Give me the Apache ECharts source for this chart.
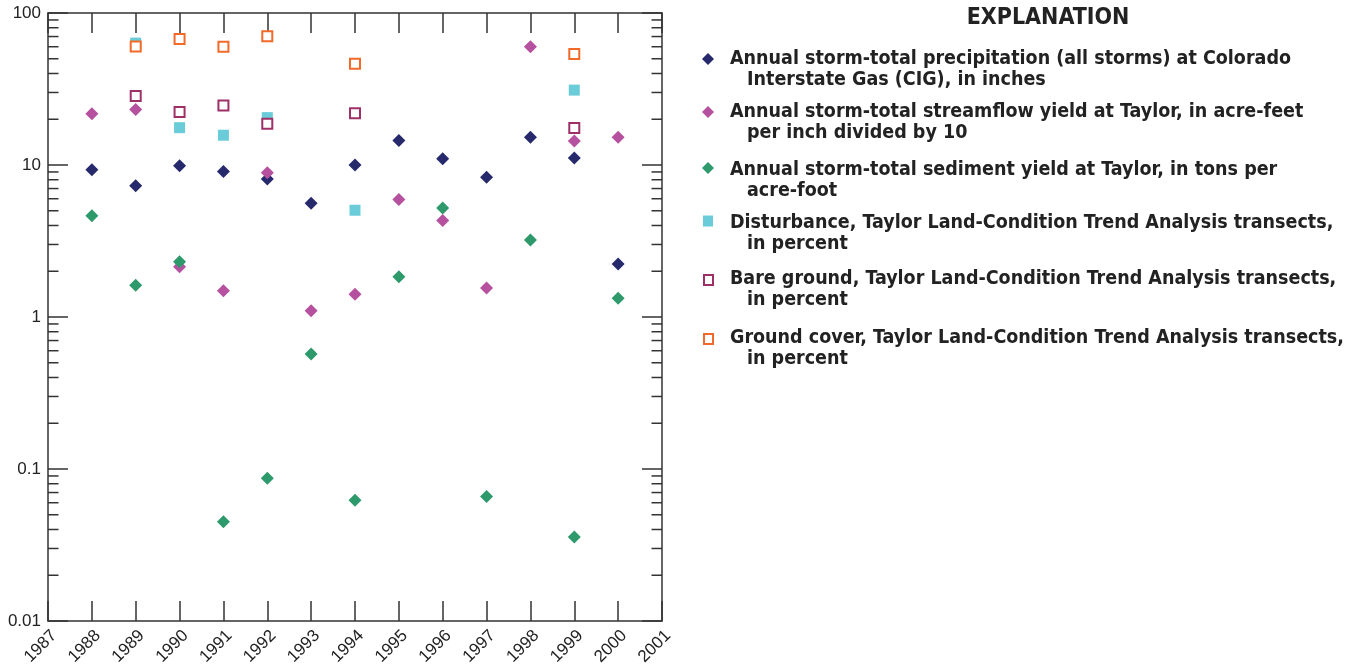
<!DOCTYPE html>
<html>
<head>
<meta charset="utf-8">
<script src="https://cdn.jsdelivr.net/npm/echarts@6/dist/echarts.min.js"></script>
<style>
html,body{margin:0;padding:0;background:#fff;}
#chart{width:1355px;height:667px;}
</style>
</head>
<body>
<div id="chart"></div>
<script>
// ---- Data ----
const years = [1988, 1989, 1990, 1991, 1992, 1993, 1994, 1995, 1996, 1997, 1998, 1999, 2000];
const precipitation = [9.3, 7.3, 9.9, 9.05, 8.1, 5.6, 10.0, 14.5, 11.0, 8.3, 15.2, 11.1, 2.23];
const streamflow = [21.7, 23.2, 2.14, 1.49, 8.9, 1.10, 1.41, 5.92, 4.31, 1.55, 60, 14.4, 15.2];
const sediment = [4.64, 1.62, 2.31, 0.045, 0.087, 0.57, 0.0623, 1.84, 5.22, 0.0659, 3.21, 0.0357, 1.33];
const lctaYears = [1989, 1990, 1991, 1992, 1994, 1999];
const disturbance = [63.4, 17.6, 15.7, 20.5, 5.04, 31.1];
const bareGround = [28.4, 22.3, 24.6, 18.7, 21.9, 17.5];
const groundCover = [60.3, 67.4, 60.0, 70.2, 46.4, 53.7];

const xTickLabels = ['1987','1988','1989','1990','1991','1992','1993','1994','1995','1996','1997','1998','1999','2000','2001'];
const yTickLabels = {'0.01':'0.01','0.1':'0.1','1':'1','10':'10','100':'100'};
const minorTickValues = [0.02,0.03,0.04,0.05,0.06,0.07,0.08,0.09,
                         0.2,0.3,0.4,0.5,0.6,0.7,0.8,0.9,
                         2,3,4,5,6,7,8,9,
                         20,30,40,50,60,70,80,90];

const legendTitle = 'EXPLANATION';
const legendItems = [
  ['Annual storm-total precipitation (all storms) at Colorado', 'Interstate Gas (CIG), in inches'],
  ['Annual storm-total streamflow yield at Taylor, in acre-feet', 'per inch divided by 10'],
  ['Annual storm-total sediment yield at Taylor, in tons per', 'acre-foot'],
  ['Disturbance, Taylor Land-Condition Trend Analysis transects,', 'in percent'],
  ['Bare ground, Taylor Land-Condition Trend Analysis transects,', 'in percent'],
  ['Ground cover, Taylor Land-Condition Trend Analysis transects,', 'in percent']
];

// ---- Styles ----
const C_NAVY = '#27296d', C_PINK = '#b5519f', C_GREEN = '#2e9a6b', C_CYAN = '#6accd9', C_BARE = '#9e3068', C_ORANGE = '#f26a2a';
const AXIS = '#333333';
const legendFont = '"Liberation Sans Narrow", "DejaVu Sans Condensed", "Liberation Sans", sans-serif';

function pairs(xs, ys){ return xs.map((x,i)=>[x, ys[i]]); }

const chart = echarts.init(document.getElementById('chart'), null, {renderer:'canvas'});

const axisLine = {show:true, lineStyle:{color:AXIS, width:1.5}};
const majorTick = {show:true, inside:true, length:20, lineStyle:{color:AXIS, width:1.5}};

const legendY = [[59,80],[112,133],[170,191],[223,244],[279,300],[338,359]];
const legendMarkerY = [59,112,168,221,280,339];
const graphics = [{
  type:'text', x:1048, y:18,
  style:{text:legendTitle, fill:'#222', font:'bold 23px ' + legendFont, textAlign:'center', textVerticalAlign:'middle'}
}];
legendItems.forEach((it, i) => {
  graphics.push({type:'text', x:730, y:legendY[i][0], style:{text:it[0], fill:'#222', font:'bold 19.5px ' + legendFont, textAlign:'left', textVerticalAlign:'middle'}});
  graphics.push({type:'text', x:747, y:legendY[i][1], style:{text:it[1], fill:'#222', font:'bold 19.5px ' + legendFont, textAlign:'left', textVerticalAlign:'middle'}});
});
const mcol = [C_NAVY, C_PINK, C_GREEN];
for (let i=0;i<3;i++){
  const cy = legendMarkerY[i], cx = 708, r = 6;
  graphics.push({type:'polygon', shape:{points:[[cx,cy-r],[cx+r,cy],[cx,cy+r],[cx-r,cy]]}, style:{fill:mcol[i]}});
}
graphics.push({type:'rect', shape:{x:703, y:legendMarkerY[3]-5.5, width:10, height:11}, style:{fill:C_CYAN}});
graphics.push({type:'rect', shape:{x:704, y:legendMarkerY[4]-5, width:9, height:10}, style:{fill:'#fff', stroke:C_BARE, lineWidth:2}});
graphics.push({type:'rect', shape:{x:704, y:legendMarkerY[5]-5, width:9, height:10}, style:{fill:'#fff', stroke:C_ORANGE, lineWidth:2}});

const option = {
  animation:false,
  backgroundColor:'#fff',
  grid:{left:48, right:693, top:13, bottom:46, containLabel:false, outerBoundsMode:'none'},
  xAxis:[{
    type:'value', min:1987, max:2001, interval:1, position:'bottom',
    axisLine:axisLine, axisTick:majorTick, splitLine:{show:false},
    axisLabel:{show:true, rotate:45, margin:6, color:'#222', fontSize:17, fontFamily:'"Liberation Sans", Arial, sans-serif',
      verticalAlign:'top',
      formatter:(v)=>xTickLabels[Math.round(v)-1987]}
  },{
    type:'value', min:1987, max:2001, interval:1, position:'top',
    axisLine:axisLine, axisTick:majorTick, splitLine:{show:false}, axisLabel:{show:false}
  }],
  yAxis:[{
    type:'log', logBase:10, min:0.01, max:100, position:'left',
    axisLine:axisLine, axisTick:majorTick, splitLine:{show:false},
    axisLabel:{show:true, margin:7, color:'#222', fontSize:17, fontFamily:'"Liberation Sans", Arial, sans-serif',
      formatter:(v)=>{const k=String(Number(v.toPrecision(3))); return yTickLabels[k]!==undefined?yTickLabels[k]:k;}}
  },{
    type:'log', logBase:10, min:0.01, max:100, position:'right',
    axisLine:axisLine, axisTick:majorTick, splitLine:{show:false}, axisLabel:{show:false}
  }],
  series:[
    {
      type:'custom', name:'minorTicks', silent:true, xAxisIndex:0, yAxisIndex:0, clip:false,
      data:minorTickValues.map(v=>[1987, v]),
      renderItem:(params, api)=>{
        const v = api.value(1);
        const pl = api.coord([1987, v]);
        const pr = api.coord([2001, v]);
        return {type:'group', children:[
          {type:'line', shape:{x1:pl[0], y1:pl[1], x2:pl[0]+10.5, y2:pl[1]}, style:{stroke:AXIS, lineWidth:1.5}},
          {type:'line', shape:{x1:pr[0]-10.5, y1:pr[1], x2:pr[0], y2:pr[1]}, style:{stroke:AXIS, lineWidth:1.5}}
        ]};
      },
      z:1
    },
    {type:'scatter', name:'precip', data:pairs(years, precipitation), symbol:'diamond', symbolSize:13, itemStyle:{color:C_NAVY, opacity:1}, z:2},
    {type:'scatter', name:'streamflow', data:pairs(years, streamflow), symbol:'diamond', symbolSize:13, itemStyle:{color:C_PINK, opacity:1}, z:3},
    {type:'scatter', name:'sediment', data:pairs(years, sediment), symbol:'diamond', symbolSize:13, itemStyle:{color:C_GREEN, opacity:1}, z:4},
    {type:'scatter', name:'disturbance', data:pairs(lctaYears, disturbance), symbol:'rect', symbolSize:11, itemStyle:{color:C_CYAN, opacity:1}, z:5},
    {type:'scatter', name:'bare', data:pairs(lctaYears, bareGround), symbol:'rect', symbolSize:10, itemStyle:{color:'#fff', borderColor:C_BARE, borderWidth:2, opacity:1}, z:6},
    {type:'scatter', name:'cover', data:pairs(lctaYears, groundCover), symbol:'rect', symbolSize:10, itemStyle:{color:'#fff', borderColor:C_ORANGE, borderWidth:2, opacity:1}, z:7}
  ],
  graphic:graphics
};
chart.setOption(option);
</script>
</body>
</html>
